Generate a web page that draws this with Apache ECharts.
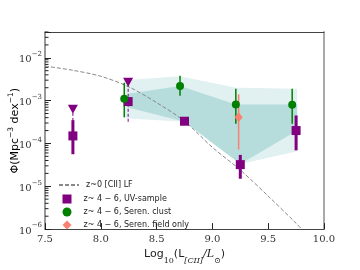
<!DOCTYPE html>
<html><head><meta charset="utf-8">
<script src="https://cdn.jsdelivr.net/npm/echarts@6/dist/echarts.min.js"></script>
<style>html,body{margin:0;padding:0;background:#fff}#c{width:360px;height:270px}</style>
</head><body><div id="c"></div>
<script>
// ---- data ----
const lfX = [7.5, 7.75, 8.0, 8.25, 8.5, 8.75, 9.0, 9.25, 9.5, 9.75, 9.8];
const lfY = [6.4e-3, 5.1e-3, 3.7e-3, 2.1e-3, 9.0e-4, 3.3e-4, 8.1e-5, 2.4e-5, 5.9e-6, 1.37e-6, 1.0e-6];

const uvX  = [7.75, 8.245, 8.75, 9.25, 9.75];
const uvY  = [1.5e-4, 9.5e-4, 3.3e-4, 3.2e-5, 2.0e-4];
const uvLo = [5.6e-5, 9.5e-4, 3.3e-4, 1.5e-5, 6.9e-5];
const uvHi = [3.5e-4, 9.5e-4, 3.3e-4, 5.4e-5, 4.5e-4];
const uvLimX  = [7.75, 8.245];
const uvLimY  = [6.3e-4, 2.7e-3];
const uvLimLo = [1.5e-4, 3.2e-4];

const clX  = [8.21, 8.71, 9.21, 9.715];
const clY  = [1.1e-3, 2.2e-3, 8.1e-4, 8.0e-4];
const clLo = [4.1e-4, 1.3e-3, 2.9e-4, 2.9e-4];
const clHi = [2.6e-3, 3.8e-3, 1.9e-3, 1.9e-3];

const fdX  = [9.235];
const fdY  = [4.1e-4];
const fdLo = [7.2e-5];
const fdHi = [1.4e-3];

const lightTopX = [8.21, 8.71, 9.21, 9.76];
const lightTop  = [3.0e-3, 3.7e-3, 2.0e-3, 1.9e-3];
const lightBotX = [8.21, 8.75, 9.25, 9.76];
const lightBot  = [3.9e-4, 3.2e-4, 3.3e-5, 6.6e-5];
const darkTopX  = [8.245, 8.71, 9.21, 9.76];
const darkTop   = [1.44e-3, 2.2e-3, 8.1e-4, 8.1e-4];
const darkBotX  = [8.245, 8.75, 9.25, 9.76];
const darkBot   = [6.9e-4, 3.2e-4, 3.3e-5, 2.0e-4];

const xTicks = [7.5, 8.0, 8.5, 9.0, 9.5, 10.0];
const yMinorMult = [2, 3, 4, 5, 6, 7, 8, 9];
const yDecades = [-6, -5, -4, -3, -2];

const names = ['z~0 [CII] LF', 'z~ 4 − 6, UV-sample', 'z~ 4 − 6, Seren. clust', 'z~ 4 − 6, Seren. field only'];
const PURPLE = '#800080', GREEN = '#008000', SALMON = '#fa8072';

// ---- helpers ----
function polygonSeries(topX, top, botX, bot, color, z) {
  return {
    type: 'custom', silent: true, z: z, clip: true,
    data: [[topX[0], top[0]]],
    renderItem: function (params, api) {
      const pts = [];
      for (let i = 0; i < topX.length; i++) pts.push(api.coord([topX[i], top[i]]));
      for (let i = botX.length - 1; i >= 0; i--) pts.push(api.coord([botX[i], bot[i]]));
      return { type: 'polygon', shape: { points: pts }, style: { fill: color, stroke: null } };
    }
  };
}
function errSeries(xs, lo, hi, color, width, z, dash) {
  return {
    type: 'custom', silent: true, z: z,
    data: xs.map((x, i) => [x, lo[i], hi[i]]),
    encode: { x: 0, y: [1, 2] },
    renderItem: function (params, api) {
      const a = api.coord([api.value(0), api.value(1)]);
      const b = api.coord([api.value(0), api.value(2)]);
      return { type: 'line', shape: { x1: a[0], y1: a[1], x2: b[0], y2: b[1] },
        style: { stroke: color, lineWidth: width, lineDash: dash || null } };
    }
  };
}
const minorVals = [];
yDecades.forEach(d => yMinorMult.forEach(m => { const v = m * Math.pow(10, d); if (v <= 0.04) minorVals.push(v); }));

const supRich = {
  b: { fontFamily: 'DejaVu Serif', fontSize: 10, color: '#333', verticalAlign: 'bottom', lineHeight: 14 },
  s: { fontFamily: 'DejaVu Serif', fontSize: 7, color: '#333', verticalAlign: 'top', lineHeight: 14 }
};
function yLabel(v) {
  const e = Math.log10(v);
  if (Math.abs(e - Math.round(e)) > 1e-6) return '';
  return '{b|10}{s|−' + Math.round(-e) + '}';
}
const legendText = { fontFamily: 'DejaVu Sans', fontSize: 8, color: '#222' };

const chart = echarts.init(document.getElementById('c'), null, { renderer: 'canvas' });
chart.setOption({
  animation: false,
  grid: { left: 45, right: 36, top: 32, bottom: 35 },
  legend: [{
    orient: 'vertical', left: 53, top: 176, itemWidth: 20, itemHeight: 10,
    textStyle: Object.assign({ padding: [0, 0, 0, 2] }, legendText),
    data: [{ name: names[0], itemStyle: { opacity: 0 } }]
  }, {
    orient: 'vertical', left: 57.5, top: 189.5, itemGap: 4, itemWidth: 9, itemHeight: 9,
    textStyle: Object.assign({ padding: [0, 0, 0, 7] }, legendText),
    data: names.slice(1)
  }],
  xAxis: [{
    type: 'value', min: 7.5, max: 10.0, interval: 0.5,
    axisLine: { lineStyle: { color: '#444', width: 1 } },
    axisTick: { inside: true, length: 6, lineStyle: { color: '#222', width: 1 } },
    axisLabel: { fontFamily: 'DejaVu Serif', fontSize: 10, color: '#333', margin: 5,
      formatter: v => xTicks.indexOf(v) >= 0 ? v.toFixed(1) : '' },
    splitLine: { show: false },
    name: '{a|Log}{s|10}{a|(L}{i|[CII]}{j|/L}{s|⊙}{a|)}',
    nameLocation: 'middle', nameGap: 19,
    nameTextStyle: { rich: {
      a: { fontFamily: 'DejaVu Sans', fontSize: 11, color: '#222', verticalAlign: 'top', lineHeight: 14 },
      s: { fontFamily: 'DejaVu Serif', fontSize: 8, color: '#222', verticalAlign: 'bottom', lineHeight: 16 },
      i: { fontFamily: 'DejaVu Serif', fontStyle: 'italic', fontSize: 8, color: '#222', verticalAlign: 'bottom', lineHeight: 16 },
      j: { fontFamily: 'DejaVu Serif', fontStyle: 'italic', fontSize: 11, color: '#222', verticalAlign: 'top', lineHeight: 14 }
    } }
  }, {
    type: 'value', min: 7.5, max: 10.0, position: 'top',
    axisLine: { lineStyle: { color: '#444', width: 1 } },
    axisTick: { show: false }, axisLabel: { show: false }, splitLine: { show: false }
  }],
  yAxis: [{
    type: 'log', logBase: 10, min: 1e-6, max: 0.04,
    axisLine: { lineStyle: { color: '#777', width: 1.5 } },
    axisTick: { inside: true, length: 6, lineStyle: { color: '#222', width: 1 } },
    axisLabel: { margin: 3, formatter: yLabel, rich: supRich },
    splitLine: { show: false }
  }, {
    type: 'log', logBase: 10, min: 1e-6, max: 0.04, position: 'right',
    axisLine: { lineStyle: { color: '#aaa', width: 2 } },
    axisTick: { show: false }, axisLabel: { show: false }, splitLine: { show: false }
  }],
  graphic: [{
    type: 'text', left: 7, top: 88, rotation: Math.PI / 2,
    style: { text: '{a|Φ(Mpc}{s|−3}{a| dex}{s|−1}{a|)}', rich: {
      a: { fontFamily: 'DejaVu Sans', fontSize: 11, color: '#222', verticalAlign: 'bottom', lineHeight: 14 },
      s: { fontFamily: 'DejaVu Sans', fontSize: 7.5, color: '#222', verticalAlign: 'top', lineHeight: 14 }
    } }
  }],
  series: [
    polygonSeries(lightTopX, lightTop, lightBotX, lightBot, '#e1f0f0', 1),
    polygonSeries(darkTopX, darkTop, darkBotX, darkBot, '#b6dcdc', 2),
    {
      type: 'custom', silent: true, z: 3, clip: false,
      data: minorVals.map(v => [7.5, v]),
      renderItem: function (params, api) {
        const p = api.coord([api.value(0), api.value(1)]);
        return { type: 'line', shape: { x1: p[0], y1: p[1], x2: p[0] + 3.5, y2: p[1] }, style: { stroke: '#222', lineWidth: 1 } };
      }
    },
    {
      name: names[0], type: 'line', z: 4, showSymbol: false, symbol: 'none', smooth: 0.3,
      data: lfX.map((x, i) => [x, lfY[i]]),
      lineStyle: { color: '#888', width: 1, type: [4, 2] }, itemStyle: { color: '#888' }
    },
    errSeries(uvLimX, uvLimLo, uvLimY, PURPLE, 1, 5, [3, 2]),
    errSeries(fdX, fdLo, fdHi, SALMON, 1.5, 5),
    errSeries(clX, clLo, clHi, GREEN, 1.5, 6),
    errSeries(uvX, uvLo, uvHi, PURPLE, 3, 6),
    {
      type: 'scatter', z: 7, symbol: 'triangle', symbolRotate: 180, symbolSize: [10, 9],
      data: uvLimX.map((x, i) => [x, uvLimY[i]]), itemStyle: { color: PURPLE, opacity: 1 }, silent: true
    },
    {
      name: names[1], type: 'scatter', z: 8, symbol: 'rect', symbolSize: 9,
      data: uvX.map((x, i) => [x, uvY[i]]), itemStyle: { color: PURPLE, opacity: 1 }
    },
    {
      name: names[2], type: 'scatter', z: 8, symbol: 'circle', symbolSize: 8,
      data: clX.map((x, i) => [x, clY[i]]), itemStyle: { color: GREEN, opacity: 1 }
    },
    {
      name: names[3], type: 'scatter', z: 7, symbol: 'diamond', symbolSize: [8, 10],
      data: fdX.map((x, i) => [x, fdY[i]]), itemStyle: { color: SALMON, opacity: 1 }
    }
  ]
});
</script></body></html>
